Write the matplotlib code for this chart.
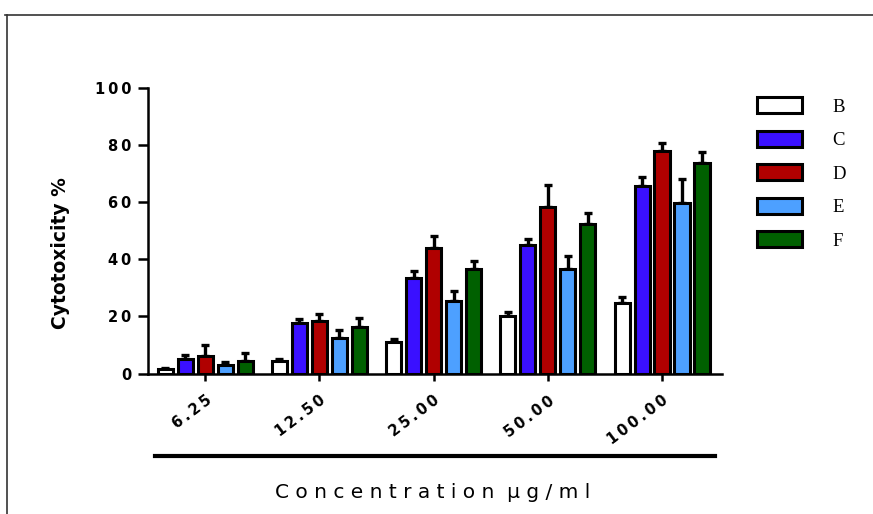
import numpy as np
import matplotlib
matplotlib.use("Agg")
import matplotlib.pyplot as plt
from matplotlib.lines import Line2D
from matplotlib.patches import Patch

# cytotoxicity (%) per extract and concentration, mean and upper SD
concentrations = ["6.25", "12.50", "25.00", "50.00", "100.00"]
groups = ["B", "C", "D", "E", "F"]

mean_b = [1.5, 4.3, 11.0, 20.2, 24.5]
mean_c = [5.0, 17.5, 33.5, 45.0, 65.6]
mean_d = [6.0, 18.5, 43.8, 58.3, 77.9]
mean_e = [3.0, 12.5, 25.5, 36.5, 59.5]
mean_f = [4.5, 16.3, 36.5, 52.3, 73.7]

sd_b = [0.5, 0.6, 1.0, 1.2, 2.3]
sd_c = [1.6, 1.7, 2.3, 2.0, 3.0]
sd_d = [3.8, 2.2, 4.4, 7.6, 2.8]
sd_e = [1.0, 2.7, 3.2, 4.5, 8.4]
sd_f = [2.8, 3.0, 2.7, 3.7, 3.6]

colors = ["#ffffff", "#3a10ff", "#b00000", "#4da0ff", "#006000"]

means = [mean_b, mean_c, mean_d, mean_e, mean_f]
sds = [sd_b, sd_c, sd_d, sd_e, sd_f]

sans = ["DejaVu Sans"]
ts = "\u2009"


def spaced(s, sep=ts):
    return sep.join(s)


fig = plt.figure(figsize=(8.73, 5.14), dpi=100)
ax = fig.add_axes([148 / 873, 1 - 373.5 / 514, (722 - 148) / 873, (373.5 - 87.5) / 514])

x = np.arange(len(concentrations))
step = 0.175
width = 0.132
for i, (g, m, s, c) in enumerate(zip(groups, means, sds, colors)):
    pos = x + (i - 2) * step
    ax.bar(pos, m, width=width, color=c, edgecolor="black", linewidth=2.2, zorder=3)
    ax.errorbar(pos, m, yerr=[np.zeros(len(s)), s], fmt="none", ecolor="black",
                elinewidth=2.4, capsize=3, capthick=2.4, zorder=2)

ax.set_xlim(-0.5, 4.525)
ax.set_ylim(0, 100)
ax.set_yticks([0, 20, 40, 60, 80, 100])
ax.set_yticklabels([spaced(str(v)) for v in [0, 20, 40, 60, 80, 100]],
                   fontweight="bold", fontsize=10.5, family=sans)
ax.set_xticks(x)
ax.set_xticklabels([spaced(c) for c in concentrations], rotation=37, ha="right",
                   rotation_mode="anchor", fontweight="bold", fontsize=10.5, family=sans)
ax.tick_params(axis="y", length=7, width=1.8, pad=5)
ax.tick_params(axis="x", length=5, width=1.8, pad=9)

for side in ["top", "right"]:
    ax.spines[side].set_visible(False)
for side in ["left", "bottom"]:
    ax.spines[side].set_linewidth(1.8)

fig.text(60 / 873, 1 - 253 / 514, "Cytotoxicity %", rotation=90, ha="center", va="center",
         fontsize=13.5, fontweight="bold", family=sans)
fig.text(433 / 873, 1 - 492 / 514, spaced("Concentration", " ") + "  " + spaced("µg/ml", " "),
         ha="center", va="center", fontsize=14.5, family=sans)

# bracket line under the concentration labels
fig.add_artist(Line2D([155 / 873, 715 / 873], [1 - 456 / 514] * 2, color="black", linewidth=3))

# outer frame (top and left)
fig.add_artist(Line2D([5 / 873, 1.0], [1 - 15 / 514] * 2, color="#333333", linewidth=1.2))
fig.add_artist(Line2D([7 / 873] * 2, [1 - 15 / 514, 0.0], color="#333333", linewidth=1.2))

handles = [Patch(facecolor=c, edgecolor="black", linewidth=2.2) for c in colors]
fig.legend(handles, groups, loc="upper left", bbox_to_anchor=(757 / 873, 1 - 97 / 514),
           frameon=False, prop={"family": ["Liberation Serif", "DejaVu Serif"], "size": 13.5},
           handlelength=2.4, handleheight=0.95, labelspacing=0.8, handletextpad=1.6,
           borderpad=0, borderaxespad=0)

fig.savefig("out.png", dpi=100)
